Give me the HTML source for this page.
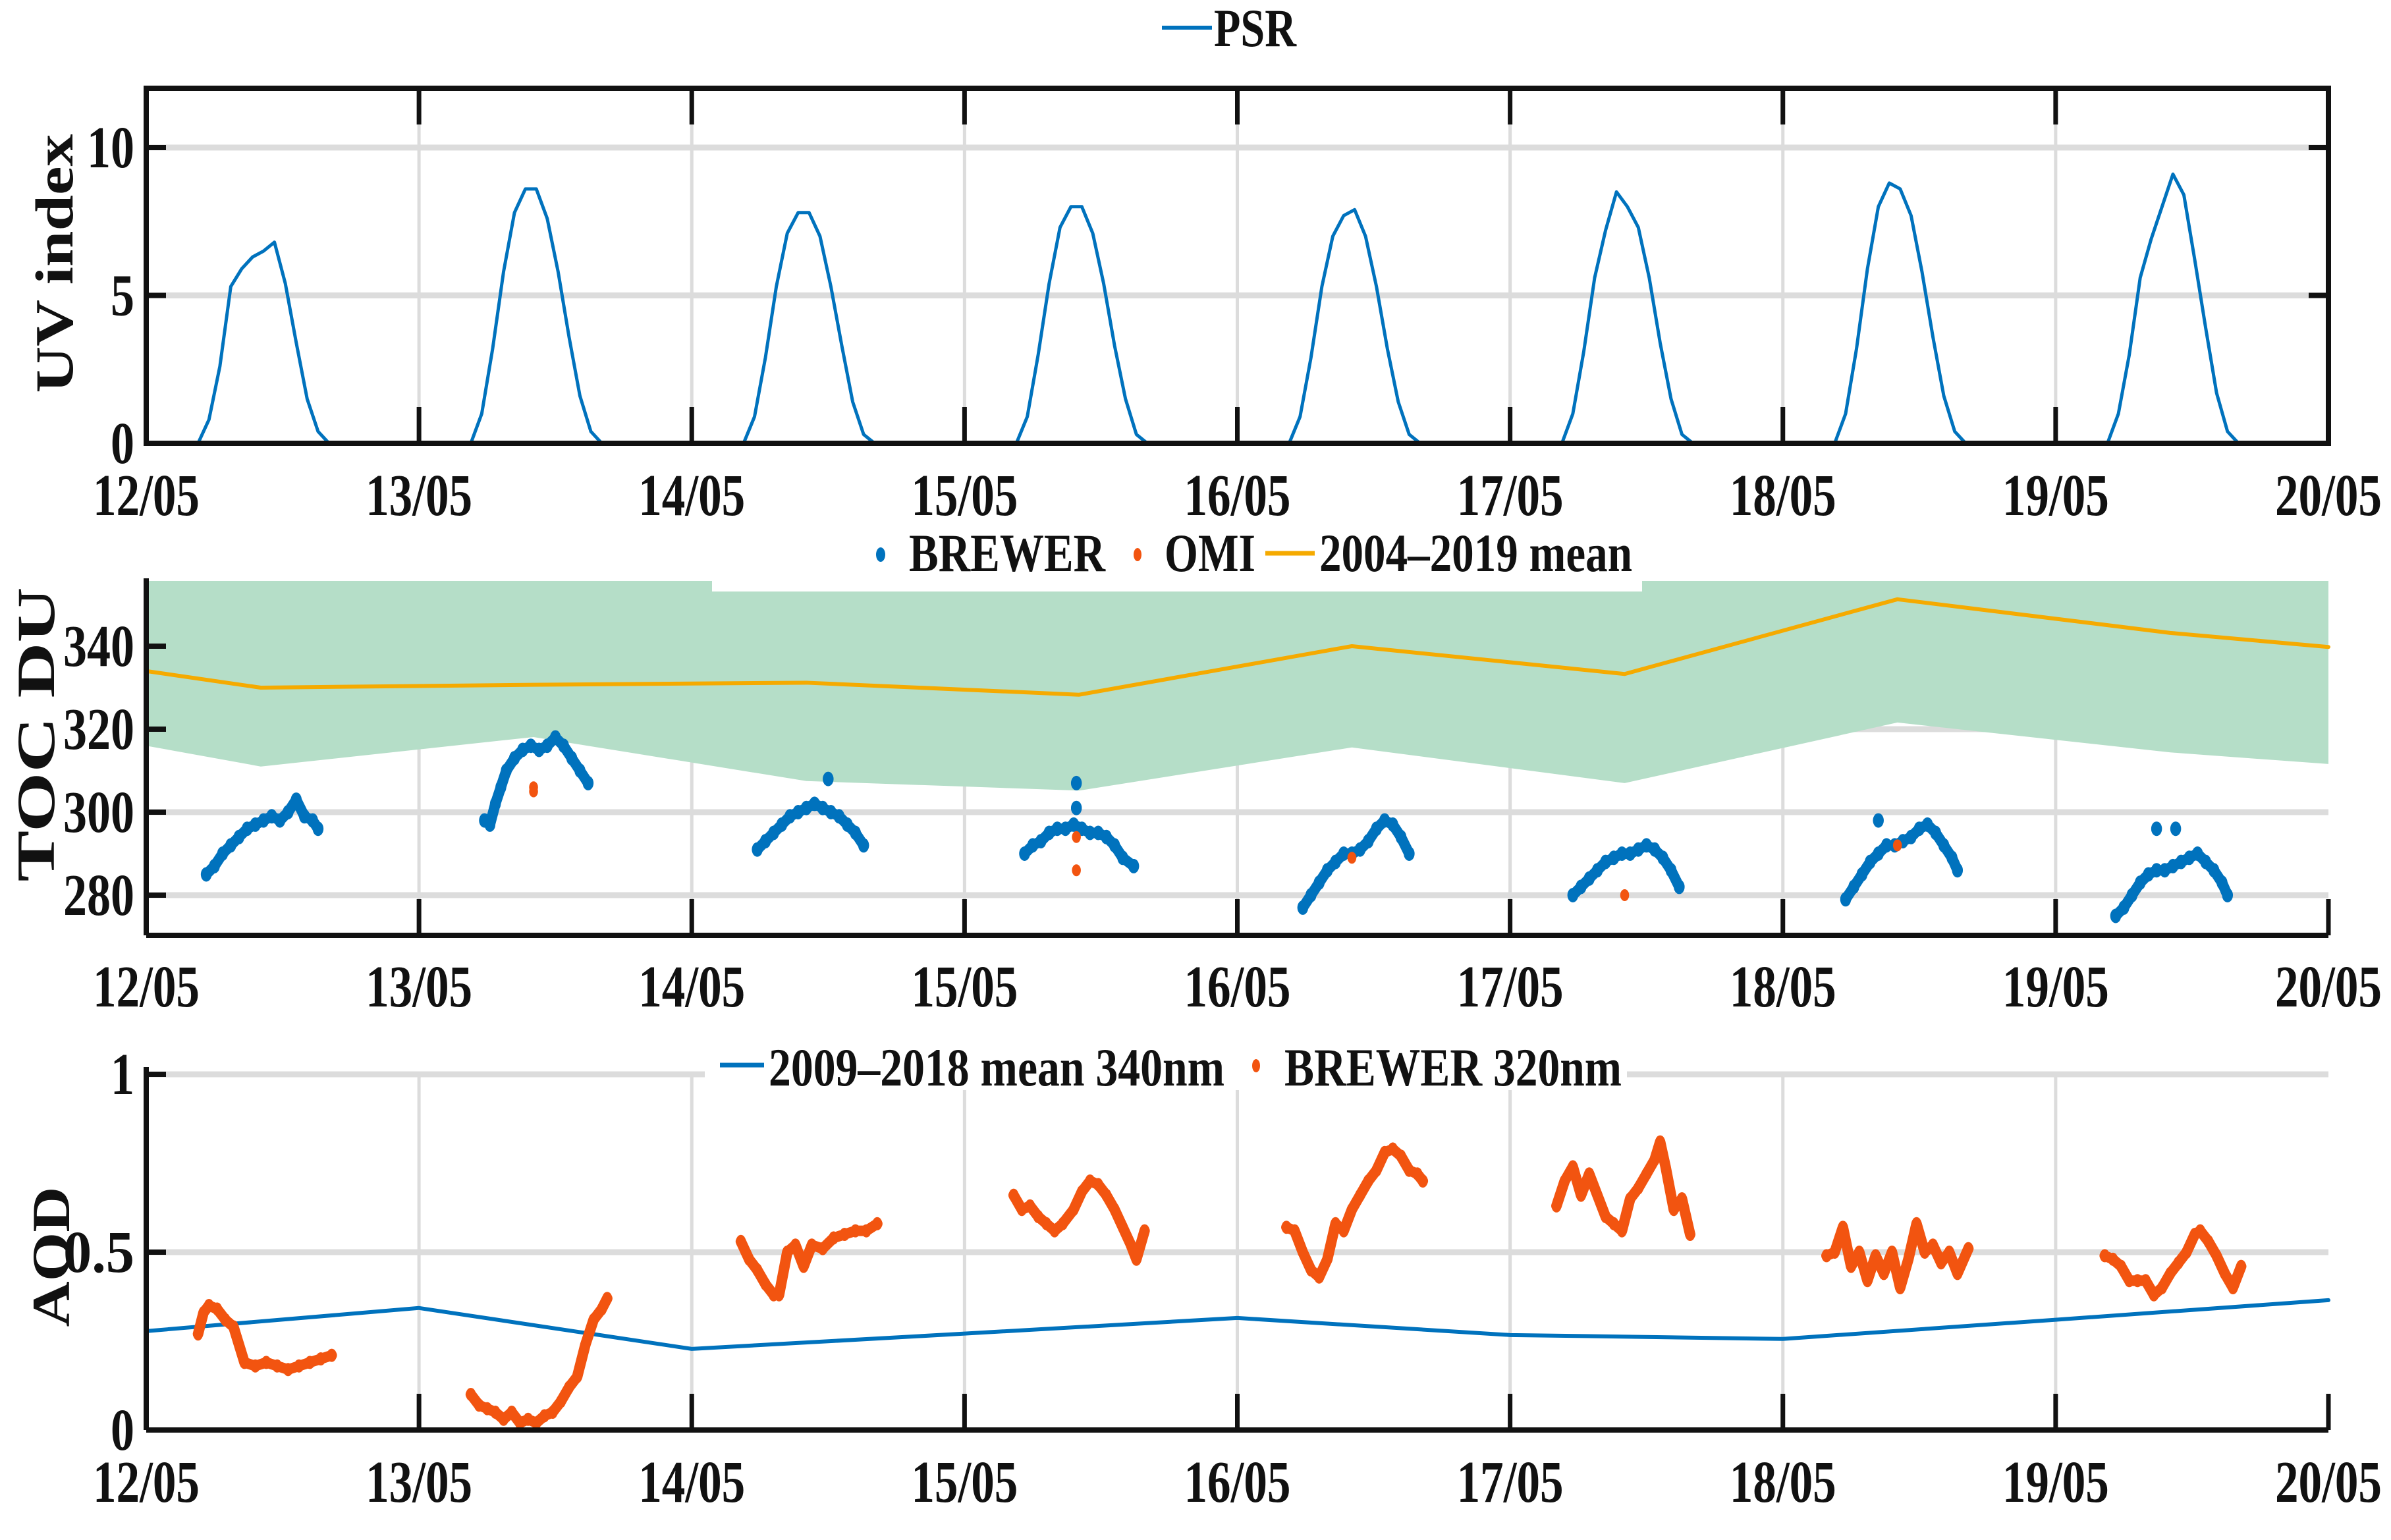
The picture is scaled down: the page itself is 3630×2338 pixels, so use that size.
<!DOCTYPE html>
<html><head><meta charset="utf-8"><style>
html,body{margin:0;padding:0;background:#fff;}
svg{display:block;font-family:"Liberation Serif",serif;font-weight:bold;}
</style></head><body>
<svg id="fig" xmlns="http://www.w3.org/2000/svg" width="3630" height="2338" viewBox="0 0 3630 2338"></svg>
<script>
// ---------- DATA ----------
const dayLabels = ["12/05","13/05","14/05","15/05","16/05","17/05","18/05","19/05","20/05"];
const uvFrac = [0.19,0.23,0.27,0.31,0.35,0.39,0.43,0.47,0.51,0.55,0.59,0.63,0.67];
const uvDay0 = [0,0.8,2.6,5.3,5.9,6.3,6.5,6.8,5.4,3.4,1.5,0.4,0];
const uvDay1 = [0,1.0,3.2,5.8,7.8,8.6,8.6,7.6,5.8,3.6,1.6,0.4,0];
const uvDay2 = [0,0.9,2.9,5.3,7.1,7.8,7.8,7.0,5.3,3.3,1.4,0.3,0];
const uvDay3 = [0,0.9,3.0,5.4,7.3,8.0,8.0,7.1,5.4,3.3,1.5,0.3,0];
const uvDay4 = [0,0.9,2.9,5.3,7.0,7.7,7.9,7.0,5.3,3.2,1.4,0.3,0];
const uvDay5 = [0,1.0,3.1,5.6,7.2,8.5,8.0,7.3,5.6,3.4,1.5,0.3,0];
const uvDay6 = [0,1.0,3.2,5.9,8.0,8.8,8.6,7.7,5.8,3.6,1.6,0.4,0];
const uvDay7 = [0,1.0,3.0,5.6,6.9,8.0,9.1,8.4,6.2,3.9,1.7,0.4,0];
const uvTicks = [0,5,10];

const tocMeanT = [0,0.42,1.42,2.42,3.42,4.42,5.42,6.42,7.42,8];
const tocMean  = [334.0,330.0,330.7,331.2,328.3,340.0,333.3,351.3,343.2,339.8];
const tocLow   = [316.0,311.0,318.1,307.5,305.2,315.6,307.0,321.6,314.4,311.6];
const tocHigh  = [365,365,365,365,365,365,365,365,365,365];
const brewT0 = [0.22,0.25,0.28,0.31,0.34,0.37,0.40,0.43,0.46,0.49,0.52,0.55,0.58,0.61,0.63];
const brewV0 = [285,287,290,292,294,296,297,298,299,298,300,303,299,298,296];
const brewT1 = [1.24,1.26,1.28,1.30,1.32,1.35,1.38,1.41,1.44,1.47,1.50,1.53,1.56,1.59,1.62];
const brewV1 = [298,297,302,306,310,313,315,316,315,316,318,316,313,310,307];
const brewT2 = [2.24,2.27,2.30,2.33,2.36,2.39,2.42,2.45,2.48,2.51,2.54,2.57,2.60,2.63];
const brewV2 = [291,293,295,297,299,300,301,302,301,300,299,297,295,292];
const brewT3 = [3.22,3.25,3.28,3.31,3.34,3.37,3.40,3.43,3.46,3.49,3.52,3.55,3.58,3.62];
const brewV3 = [290,292,293,295,296,296,297,296,295,295,294,292,289,287];
const brewT4 = [4.24,4.27,4.30,4.33,4.36,4.39,4.42,4.45,4.48,4.51,4.54,4.57,4.60,4.63];
const brewV4 = [277,280,283,286,288,290,290,291,293,296,298,297,294,290];
const brewT5 = [5.23,5.26,5.29,5.32,5.35,5.38,5.41,5.44,5.47,5.50,5.53,5.56,5.59,5.62];
const brewV5 = [280,282,284,286,288,289,290,290,291,292,291,289,286,282];
const brewT6 = [6.23,6.26,6.29,6.32,6.35,6.38,6.41,6.44,6.47,6.50,6.53,6.56,6.59,6.62,6.64];
const brewV6 = [279,282,285,288,290,292,292,293,294,296,297,295,292,289,286];
const brewT7 = [7.22,7.25,7.28,7.31,7.34,7.37,7.40,7.43,7.46,7.49,7.52,7.55,7.58,7.61,7.63];
const brewV7 = [275,277,280,283,285,286,286,287,288,289,290,288,286,283,280];
const brewOutT = [2.50,3.41,3.41,6.35,7.37,7.44];
const brewOutV = [308,307,301,298,296,296];
const omiT = [1.42,1.42,3.41,3.41,4.42,5.42,6.42];
const omiV = [306,305,294,286,289,280,292];
const tocTicks = [280,300,320,340];

const aodMeanT = [0,1,2,3,4,5,6,7,8];
const aodMean  = [0.278,0.343,0.228,0.271,0.315,0.267,0.256,0.310,0.365];
const aodT0 = [0.19,0.21,0.23,0.26,0.29,0.32,0.34,0.36,0.40,0.44,0.48,0.52,0.56,0.60,0.64,0.68];
const aodV0 = [0.27,0.33,0.35,0.34,0.31,0.29,0.24,0.19,0.18,0.19,0.18,0.17,0.18,0.19,0.20,0.21];
const aodT1 = [1.19,1.22,1.25,1.28,1.31,1.34,1.37,1.40,1.43,1.46,1.49,1.52,1.55,1.58,1.61,1.64,1.67,1.69];
const aodV1 = [0.10,0.07,0.06,0.05,0.03,0.05,0.02,0.03,0.02,0.04,0.05,0.08,0.12,0.15,0.24,0.31,0.34,0.37];
const aodT2 = [2.18,2.21,2.24,2.27,2.30,2.32,2.35,2.38,2.41,2.44,2.48,2.52,2.56,2.60,2.64,2.68];
const aodV2 = [0.53,0.48,0.45,0.41,0.38,0.38,0.50,0.52,0.46,0.52,0.51,0.54,0.55,0.56,0.56,0.58];
const aodT3 = [3.18,3.21,3.24,3.27,3.30,3.33,3.36,3.40,3.43,3.46,3.49,3.52,3.55,3.58,3.61,3.63,3.66];
const aodV3 = [0.66,0.62,0.63,0.60,0.58,0.56,0.58,0.62,0.67,0.70,0.69,0.66,0.62,0.57,0.52,0.48,0.56];
const aodT4 = [4.18,4.21,4.24,4.27,4.30,4.33,4.36,4.39,4.42,4.45,4.48,4.51,4.54,4.57,4.60,4.63,4.66,4.68];
const aodV4 = [0.57,0.56,0.50,0.45,0.43,0.48,0.58,0.56,0.62,0.66,0.70,0.73,0.78,0.79,0.77,0.73,0.72,0.70];
const aodT5 = [5.17,5.20,5.23,5.26,5.29,5.32,5.35,5.38,5.41,5.44,5.47,5.50,5.53,5.55,5.57,5.60,5.63,5.66];
const aodV5 = [0.63,0.70,0.74,0.66,0.72,0.66,0.60,0.58,0.56,0.65,0.68,0.72,0.76,0.81,0.74,0.62,0.65,0.55];
const aodT6 = [6.16,6.19,6.22,6.25,6.28,6.31,6.34,6.37,6.40,6.43,6.46,6.49,6.52,6.55,6.58,6.61,6.64,6.68];
const aodV6 = [0.49,0.50,0.57,0.46,0.50,0.42,0.49,0.44,0.50,0.40,0.48,0.58,0.50,0.52,0.47,0.50,0.44,0.51];
const aodT7 = [7.18,7.21,7.24,7.27,7.30,7.33,7.36,7.39,7.42,7.45,7.48,7.51,7.53,7.56,7.59,7.62,7.65,7.68];
const aodV7 = [0.49,0.48,0.46,0.42,0.42,0.42,0.38,0.40,0.44,0.47,0.50,0.55,0.56,0.53,0.49,0.44,0.40,0.46];
const aodTicks = [0,0.5,1];
const aodTickLabels = ["0","0.5","1"];

// ---------- DRAWING ----------
const NS = "http://www.w3.org/2000/svg";
const svg = document.getElementById('fig');
function el(tag, attrs, parent){ const e=document.createElementNS(NS,tag); for(const k in attrs) e.setAttribute(k,attrs[k]); (parent||svg).appendChild(e); return e; }
const X0=222, X1=3535;
const xs = d => X0 + d*(X1-X0)/8;
const y1 = v => 673 - v*44.9;
const y2 = v => 1233 - (v-300)*6.3;
const y3 = v => 2171 - v*540;
const BLUE="#0072bd", ORANGE="#f25410", YEL="#f5aa00", GREEN="#b5dec8", GRID="#dcdcdc";

function vgrid(top,bot){ for(let i=1;i<8;i++){ const l=el('line',{x1:xs(i),x2:xs(i),y1:top,y2:bot,stroke:GRID,'stroke-width':5});   } }
function hgrid(vals,ys){ vals.forEach(v=>{ const l=el('line',{x1:X0,x2:X1,y1:ys(v),y2:ys(v),stroke:GRID,'stroke-width':9});   }); }
function xlabels(base){ dayLabels.forEach((t,i)=>{ const e=el('text',{x:xs(i),y:base,'font-size':90,'text-anchor':'middle',textLength:162,lengthAdjust:'spacingAndGlyphs',fill:'#111'}); e.textContent=t;   }); }
function ylabels(vals,texts,ys){ vals.forEach((v,i)=>{ const t=texts[i]; const e=el('text',{x:204,y:ys(v)+30,'font-size':90,'text-anchor':'end',textLength:t.length*36,lengthAdjust:'spacingAndGlyphs',fill:'#111'}); e.textContent=t;   }); }
function xticks(bot,len,top){ for(let i=0;i<=8;i++){ el('line',{x1:xs(i),x2:xs(i),y1:bot,y2:bot-len,stroke:'#111','stroke-width':7}); if(top!==undefined) el('line',{x1:xs(i),x2:xs(i),y1:top,y2:top+len,stroke:'#111','stroke-width':7}); } }
function ytitle(txt,cx,cy,len){ const e=el('text',{x:0,y:0,'font-size':82,'text-anchor':'middle',textLength:len,lengthAdjust:'spacingAndGlyphs',fill:'#111',transform:`translate(${cx},${cy}) rotate(-90)`}); e.textContent=txt;   }
function poly(ts,vs,ys,color,w,name){ const p=el('polyline',{points:ts.map((t,i)=>xs(t)+','+ys(vs[i])).join(' '),fill:'none',stroke:color,'stroke-width':w,'stroke-linejoin':'round','stroke-linecap':'round'});   return p; }
function dots(ts,vs,ys,color,r,name){ ts.forEach((t,i)=>{ const c=el('ellipse',{cx:xs(t),cy:ys(vs[i]),rx:r*0.75,ry:r,fill:color});   }); }
function legText(x,y,txt,len){ const e=el('text',{x:x,y:y,'font-size':82,textLength:len,lengthAdjust:'spacingAndGlyphs',fill:'#111'}); e.textContent=txt;   }

// ===== Panel 1 =====
vgrid(134,673); hgrid([5,10],y1);
const uvDays=[uvDay0,uvDay1,uvDay2,uvDay3,uvDay4,uvDay5,uvDay6,uvDay7];
uvDays.forEach((vals,d)=>poly(uvFrac.map(f=>f+d),vals,y1,BLUE,5,'psr-uv-line'));
el('rect',{x:X0,y:134,width:X1-X0,height:673-134,fill:'none',stroke:'#111','stroke-width':8});
xticks(673,55,134);
uvTicks.forEach(v=>{ el('line',{x1:X0,x2:X0+30,y1:y1(v),y2:y1(v),stroke:'#111','stroke-width':8}); el('line',{x1:X1,x2:X1-30,y1:y1(v),y2:y1(v),stroke:'#111','stroke-width':8}); });
xlabels(782); ylabels(uvTicks,uvTicks.map(String),y1); ytitle('UV index',110,400,393);
el('line',{x1:1764,x2:1840,y1:42,y2:42,stroke:BLUE,'stroke-width':6});
legText(1843,70,'PSR',125);

// ===== Panel 2 =====
vgrid(882,1420); hgrid(tocTicks,y2);
const bandPts = tocMeanT.map((t,i)=>xs(t)+','+Math.max(882,y2(tocHigh[i]))).concat(tocMeanT.slice().reverse().map((t,j)=>{const i=tocMeanT.length-1-j; return xs(t)+','+y2(tocLow[i]);})).join(' ');
const band=el('polygon',{points:bandPts,fill:GREEN});


el('rect',{x:1081,y:800,width:1412,height:98,fill:'#fff'});
poly(tocMeanT,tocMean,y2,YEL,6,'toc-mean-line');
[[brewT0,brewV0],[brewT1,brewV1],[brewT2,brewV2],[brewT3,brewV3],[brewT4,brewV4],[brewT5,brewV5],[brewT6,brewV6],[brewT7,brewV7]].forEach(a=>{ poly(a[0],a[1],y2,BLUE,16,'brewer-toc-trace'); dots(a[0],a[1],y2,BLUE,11,'brewer-toc-point'); });
dots(brewOutT,brewOutV,y2,BLUE,11,'brewer-toc-point');
dots(omiT,omiV,y2,ORANGE,9,'omi-toc-point');
el('line',{x1:X0,x2:X0,y1:878,y2:1420,stroke:'#111','stroke-width':8});
el('line',{x1:X0,x2:X1,y1:1420,y2:1420,stroke:'#111','stroke-width':8});
xticks(1420,55);
tocTicks.forEach(v=>el('line',{x1:X0,x2:X0+30,y1:y2(v),y2:y2(v),stroke:'#111','stroke-width':8}));
xlabels(1528); ylabels(tocTicks,tocTicks.map(String),y2); ytitle('TOC DU',82,1115,447);
el('ellipse',{cx:1337,cy:842,rx:7,ry:11,fill:BLUE});
legText(1380,867,'BREWER',298);
el('ellipse',{cx:1727,cy:842,rx:6,ry:10,fill:ORANGE});
legText(1768,867,'OMI',138);
el('line',{x1:1921,x2:1996,y1:840,y2:840,stroke:YEL,'stroke-width':7});
legText(2003,867,'2004–2019 mean',475);

// ===== Panel 3 =====
vgrid(1632,2171); hgrid([0.5,1],y3);
el('rect',{x:1070,y:1575,width:1400,height:80,fill:'#fff'});
poly(aodMeanT,aodMean,y3,BLUE,6,'aod-mean-line');
[[aodT0,aodV0],[aodT1,aodV1],[aodT2,aodV2],[aodT3,aodV3],[aodT4,aodV4],[aodT5,aodV5],[aodT6,aodV6],[aodT7,aodV7]].forEach(a=>{ poly(a[0],a[1],y3,ORANGE,16,'brewer-aod-trace'); dots(a[0],a[1],y3,ORANGE,10,'brewer-aod-point'); });
el('line',{x1:X0,x2:X0,y1:1620,y2:2171,stroke:'#111','stroke-width':8});
el('line',{x1:X0,x2:X1,y1:2171,y2:2171,stroke:'#111','stroke-width':8});
xticks(2171,55);
aodTicks.forEach(v=>el('line',{x1:X0,x2:X0+30,y1:y3(v),y2:y3(v),stroke:'#111','stroke-width':8}));
xlabels(2280); ylabels(aodTicks,aodTickLabels,y3); ytitle('AOD',105,1908,213);
el('line',{x1:1093,x2:1160,y1:1617,y2:1617,stroke:BLUE,'stroke-width':7});
legText(1167,1648,'2009–2018 mean 340nm',692);
el('ellipse',{cx:1907,cy:1618,rx:6,ry:10,fill:ORANGE});
legText(1950,1648,'BREWER 320nm',512);
</script>
</body></html>
